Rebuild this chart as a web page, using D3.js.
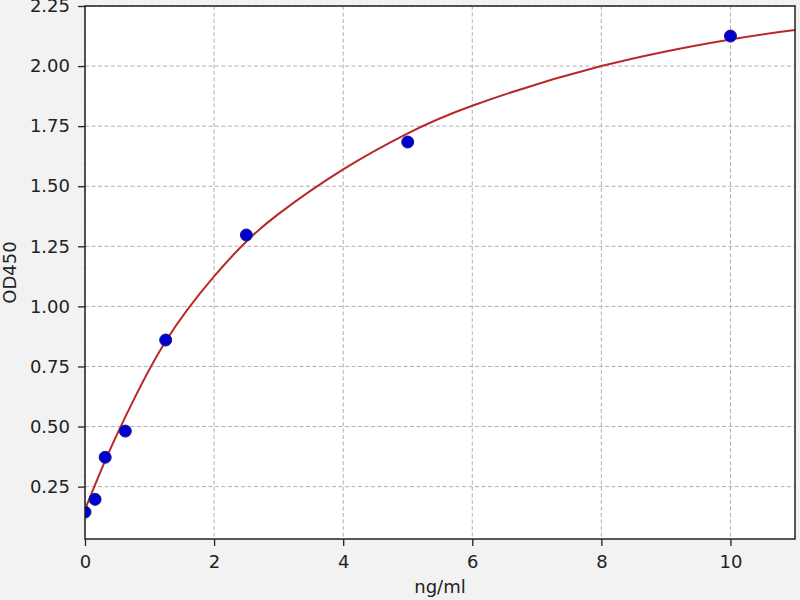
<!DOCTYPE html>
<html>
<head>
<meta charset="utf-8">
<script src="https://cdn.jsdelivr.net/npm/d3@7"></script>
<style>
  body { margin: 0; background: #f2f2f2; }
  text { font-family: "DejaVu Sans", sans-serif; }
</style>
</head>
<body>
<div id="graphic-area"></div>
<script>
// standard points
const conc = [0, 0.156, 0.3125, 0.625, 1.25, 2.5, 5, 10];
const od = [0.144, 0.197, 0.372, 0.481, 0.86, 1.297, 1.684, 2.125];

// fitted curve
const curveX = [0, 0.3, 0.625, 1.25, 2.0, 2.5, 3.0, 4.0, 5.0, 6.0, 8.0, 10, 11];
const curveY = [0.155, 0.35, 0.54, 0.855, 1.125, 1.27, 1.385, 1.57, 1.72, 1.835, 2.0, 2.111, 2.15];

const xTicks = [0, 2, 4, 6, 8, 10];
const yTicks = [0.25, 0.5, 0.75, 1.0, 1.25, 1.5, 1.75, 2.0, 2.25];

const w = 800;
const h = 600;
const pLeft = 85, pRight = 795, pTop = 6, pBottom = 539;

const xScale = d3.scaleLinear().domain([0, 11]).range([pLeft, pRight]);
const yScale = d3.scaleLinear().domain([0.032, 2.25]).range([pBottom, pTop]);

const svg = d3.select("#graphic-area")
              .append("svg")
              .attr("width", w)
              .attr("height", h);

svg.append("rect")
   .attr("width", w).attr("height", h)
   .attr("fill", "#f2f2f2");

svg.append("rect")
   .attr("x", pLeft).attr("y", pTop)
   .attr("width", pRight - pLeft).attr("height", pBottom - pTop)
   .attr("fill", "#fff");

svg.append("clipPath").attr("id", "plot-clip")
   .append("rect")
   .attr("x", pLeft).attr("y", pTop)
   .attr("width", pRight - pLeft).attr("height", pBottom - pTop);

// grid
const grid = svg.append("g")
   .attr("stroke", "#b0b0b0")
   .attr("stroke-width", 1)
   .attr("stroke-dasharray", "4,2.5");

grid.selectAll(".vgrid")
    .data(xTicks)
    .enter()
    .append("line")
    .attr("x1", d => xScale(d)).attr("x2", d => xScale(d))
    .attr("y1", pTop).attr("y2", pBottom);

grid.selectAll(".hgrid")
    .data(yTicks)
    .enter()
    .append("line")
    .attr("x1", pLeft).attr("x2", pRight)
    .attr("y1", d => yScale(d)).attr("y2", d => yScale(d));

const plot = svg.append("g").attr("clip-path", "url(#plot-clip)");

const line = d3.line()
               .x(d => xScale(d[0]))
               .y(d => yScale(d[1]))
               .curve(d3.curveNatural);

plot.append("path")
    .datum(curveX.map((x, i) => [x, curveY[i]]))
    .attr("d", line)
    .attr("fill", "none")
    .attr("stroke", "#b8282b")
    .attr("stroke-width", 2);

plot.selectAll("circle")
    .data(conc.map((x, i) => [x, od[i]]))
    .enter()
    .append("circle")
    .attr("cx", d => xScale(d[0]))
    .attr("cy", d => yScale(d[1]))
    .attr("r", 6)
    .attr("fill", "#0000cc")
    .attr("stroke", "#1a1a8c")
    .attr("stroke-width", 1);

// axes
const xAxis = d3.axisBottom(xScale).tickValues(xTicks).tickFormat(d3.format("d")).tickSize(7).tickPadding(9);
const yAxis = d3.axisLeft(yScale).tickValues(yTicks).tickFormat(d3.format(".2f")).tickSize(7).tickPadding(8);

const gx = svg.append("g")
   .attr("transform", "translate(0," + pBottom + ")")
   .call(xAxis);
const gy = svg.append("g")
   .attr("transform", "translate(" + pLeft + ",0)")
   .call(yAxis);

[gx, gy].forEach(g => {
  g.select(".domain").remove();
  g.selectAll("line").attr("stroke", "#222").attr("stroke-width", 1.3);
  g.selectAll("text").attr("font-size", 18).attr("fill", "#222")
   .style("font-family", "'DejaVu Sans', sans-serif");
});

svg.append("rect")
   .attr("x", pLeft).attr("y", pTop)
   .attr("width", pRight - pLeft).attr("height", pBottom - pTop)
   .attr("fill", "none")
   .attr("stroke", "#222")
   .attr("stroke-width", 1.5);

svg.append("text")
   .attr("x", (pLeft + pRight) / 2)
   .attr("y", 593)
   .attr("text-anchor", "middle")
   .attr("font-size", 18)
   .attr("fill", "#222")
   .text("ng/ml");

svg.append("text")
   .attr("transform", "rotate(-90)")
   .attr("x", -(pTop + pBottom) / 2)
   .attr("y", 16)
   .attr("text-anchor", "middle")
   .attr("font-size", 18)
   .attr("fill", "#222")
   .text("OD450");
</script>
</body>
</html>
